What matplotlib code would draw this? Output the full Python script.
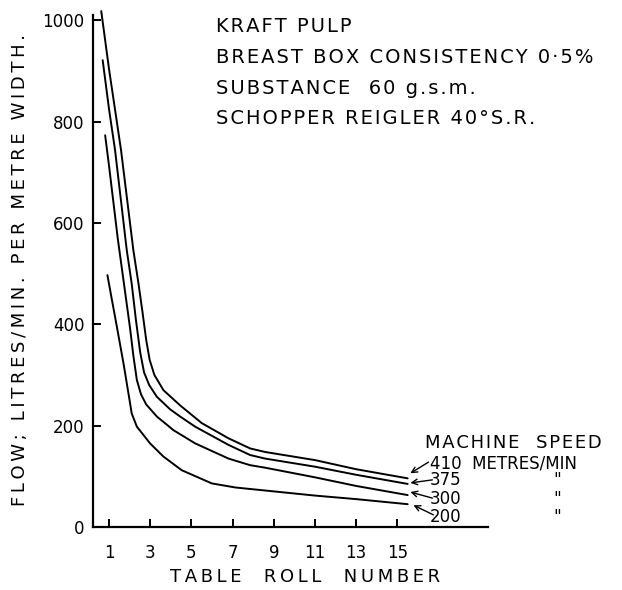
import matplotlib.pyplot as plt

# flow curves, one per machine speed (metres/min)
roll_410 = [0.62, 1.0, 1.58, 2.18, 2.43, 2.62, 2.80, 2.97, 3.2, 3.64, 4.45, 5.5, 6.8, 7.85, 8.58, 11.0, 13.0, 15.5]
flow_410 = [1018, 903, 744, 546, 480, 425, 370, 330, 300, 270, 240, 205, 175, 155, 148, 132, 114, 96]

roll_375 = [0.69, 1.0, 1.29, 1.86, 2.10, 2.30, 2.51, 2.70, 2.95, 3.32, 3.97, 4.45, 5.18, 6.8, 7.85, 8.58, 11.0, 13.0, 15.5]
flow_375 = [921, 824, 744, 546, 480, 410, 345, 305, 280, 257, 232, 218, 198, 162, 142, 135, 119, 103, 85]

roll_300 = [0.81, 1.0, 1.42, 1.70, 2.02, 2.18, 2.35, 2.55, 2.8, 3.32, 4.13, 5.18, 6.8, 7.85, 8.58, 11.0, 13.0, 15.5]
flow_300 = [773, 712, 570, 487, 392, 338, 290, 262, 242, 218, 191, 165, 135, 122, 117, 98, 81, 63]

roll_200 = [0.92, 1.13, 1.29, 1.50, 1.70, 1.94, 2.10, 2.35, 2.99, 3.64, 4.53, 5.99, 7.13, 7.85, 8.58, 11.0, 13.0, 15.5]
flow_200 = [497, 450, 415, 368, 323, 264, 224, 198, 165, 139, 112, 86, 78, 75, 72, 62, 55, 45]

x_ticks = [1, 3, 5, 7, 9, 11, 13, 15]
y_ticks = [0, 200, 400, 600, 800, 1000]

speed_labels = ['410', '375', '300', '200']
# arrow tails (label side) and heads (curve end side), data coords
arrow_tails = [(16.51, 128), (16.70, 93), (16.70, 57), (16.75, 24)]
arrow_heads = [(15.63, 106), (15.63, 87), (15.63, 69), (15.78, 43)]

notes = ['KRAFT PULP',
         'BREAST BOX CONSISTENCY 0·5%',
         'SUBSTANCE  60 g.s.m.',
         'SCHOPPER REIGLER 40°S.R.']


def spaced(text, gap='\u2009'):
    # hand lettering is widely spaced; pad letters with thin spaces
    return gap.join(text)


fig = plt.figure(figsize=(6.22, 5.9), dpi=100)
ax = fig.add_axes([93 / 622, 63 / 590, 395 / 622, 522 / 590])

for xs, ys in [(roll_410, flow_410), (roll_375, flow_375),
               (roll_300, flow_300), (roll_200, flow_200)]:
    ax.plot(xs, ys, color='black', lw=1.4, solid_capstyle='round', solid_joinstyle='round')

ax.set_xlim(0.22, 19.4)
ax.set_ylim(0, 1030)
ax.spines['top'].set_visible(False)
ax.spines['right'].set_visible(False)
ax.spines['left'].set_bounds(0, 1010)
for side in ['left', 'bottom']:
    ax.spines[side].set_linewidth(1.6)

ax.set_xticks(x_ticks)
ax.set_yticks(y_ticks)
ax.tick_params(direction='in', length=6, width=1.4, labelsize=12)
ax.tick_params(axis='x', pad=12)
ax.tick_params(axis='y', pad=6)

for (tx, ty), (hx, hy) in zip(arrow_tails, arrow_heads):
    ax.annotate('', xy=(hx, hy), xytext=(tx, ty), annotation_clip=False,
                arrowprops=dict(arrowstyle='->', lw=1.0, color='black',
                                shrinkA=0, shrinkB=0, mutation_scale=10))

# labels, hand-lettered in the original
fig.text(20 / 622, 1 - 270 / 590, spaced('FLOW; LITRES/MIN. PER METRE WIDTH.'),
         rotation=90, ha='center', va='center', fontsize=13)
fig.text(305 / 622, 1 - 577 / 590, spaced('TABLE  ROLL  NUMBER'),
         ha='center', va='center', fontsize=13)

for i, line in enumerate(notes):
    fig.text(216 / 622, 1 - (27 + i * 30.5) / 590, spaced(line, '\u200a'),
             ha='left', va='center', fontsize=14)

fig.text(425 / 622, 1 - 443 / 590, spaced('MACHINE  SPEED', '\u200a'),
         ha='left', va='center', fontsize=13)
label_rows = [463, 480, 499, 517]
for lab, row in zip(speed_labels, label_rows):
    text = lab + '  METRES/MIN' if lab == '410' else lab
    fig.text(430 / 622, 1 - row / 590, text, ha='left', va='center', fontsize=12)
    if lab != '410':
        fig.text(557 / 622, 1 - row / 590, '"', ha='center', va='center', fontsize=12)

fig.savefig('out.png', dpi=100)
